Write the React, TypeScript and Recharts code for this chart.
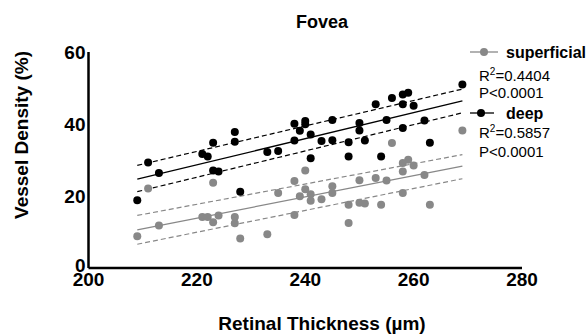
import React from "react";
import { ScatterChart, Scatter, XAxis, YAxis } from "recharts";

const thickness = [209, 211, 213, 221, 222, 223, 223, 224, 227, 227, 228, 233, 235, 238, 238, 239, 240, 240, 241, 241, 243, 245, 245, 248, 248, 250, 250, 251, 253, 254, 255, 256, 258, 258, 258, 259, 260, 262, 263, 269];
const deepValues = [18.8, 29.3, 26.4, 31.7, 31.0, 34.8, 27.1, 26.8, 37.8, 35.1, 21.2, 32.2, 32.5, 40.1, 35.4, 38.1, 40.8, 39.9, 37.1, 30.5, 35.3, 41.1, 35.5, 34.9, 31.0, 40.3, 38.2, 35.4, 45.5, 31.0, 41.1, 47.2, 48.2, 45.5, 38.9, 48.7, 45.1, 41.0, 34.8, 51.0];
const superficialValues = [8.8, 22.1, 11.8, 14.2, 14.2, 23.7, 12.7, 14.6, 14.2, 12.4, 8.2, 9.4, 20.8, 24.2, 14.7, 19.9, 27.1, 21.9, 20.5, 18.7, 19.1, 22.7, 20.8, 17.6, 12.5, 24.4, 18.1, 17.9, 25.0, 17.6, 24.3, 34.7, 29.2, 26.8, 20.8, 30.1, 28.5, 25.8, 17.6, 38.2];

const fitX = [209, 269];
const deepFit = [24.7, 46.4];
const deepUpper = [28.5, 49.7];
const deepLower = [21.2, 43.1];
const supFit = [10.6, 28.3];
const supUpper = [14.6, 31.5];
const supLower = [6.6, 24.8];

const xTicks = [200, 220, 240, 260, 280];
const yTicks = [0, 20, 40, 60];

const FONT = "'Liberation Sans', Arial, sans-serif";
const GRAY = "#888888";

const toPts = (ys: number[]) => fitX.map((x, i) => ({ x, y: ys[i] }));
const deepData = thickness.map((x, i) => ({ x, y: deepValues[i] }));
const supData = thickness.map((x, i) => ({ x, y: superficialValues[i] }));

const dot = (color: string) => (props: any) => (
  <circle cx={props.cx} cy={props.cy} r={4} fill={color} />
);
const noShape = () => <g />;

const YTick = (props: any) => {
  const { x, y, payload } = props;
  const shift = payload.value === 0 ? -3 : 0;
  return (
    <text x={x} y={y + shift} dy="0.355em" textAnchor="end" fontSize={19} fontWeight="bold" fontFamily={FONT} fill="#000">
      {payload.value}
    </text>
  );
};

export default function App() {
  return (
    <div style={{ position: "absolute", left: 0, top: 0, width: 587, height: 335, background: "#fff" }}>
      <ScatterChart width={587} height={335} margin={{ top: 52, right: 65, bottom: 0, left: 0 }}>
        <XAxis
          type="number"
          dataKey="x"
          domain={[200, 280]}
          ticks={xTicks}
          height={67}
          tickLine={false}
          tickSize={0}
          tickMargin={5}
          axisLine={{ stroke: "#000", strokeWidth: 2.5 }}
          tick={{ fill: "#000", fontSize: 19, fontWeight: "bold", fontFamily: FONT }}
          interval={0}
        />
        <YAxis
          type="number"
          dataKey="y"
          domain={[0, 60]}
          ticks={yTicks}
          width={88.5}
          tickLine={false}
          tickSize={0}
          tickMargin={3}
          axisLine={{ stroke: "#000", strokeWidth: 2.5 }}
          tick={<YTick />}
          interval={0}
        />
        <Scatter data={toPts(supUpper)} shape={noShape} line={{ stroke: GRAY, strokeWidth: 1.2, strokeDasharray: "5 3" }} isAnimationActive={false} />
        <Scatter data={toPts(supLower)} shape={noShape} line={{ stroke: GRAY, strokeWidth: 1.2, strokeDasharray: "5 3" }} isAnimationActive={false} />
        <Scatter data={toPts(supFit)} shape={noShape} line={{ stroke: GRAY, strokeWidth: 1.3 }} isAnimationActive={false} />
        <Scatter data={toPts(deepUpper)} shape={noShape} line={{ stroke: "#000", strokeWidth: 1.2, strokeDasharray: "5 3" }} isAnimationActive={false} />
        <Scatter data={toPts(deepLower)} shape={noShape} line={{ stroke: "#000", strokeWidth: 1.2, strokeDasharray: "5 3" }} isAnimationActive={false} />
        <Scatter data={toPts(deepFit)} shape={noShape} line={{ stroke: "#000", strokeWidth: 1.3 }} isAnimationActive={false} />
        <Scatter name="superficial" data={supData} shape={dot(GRAY)} isAnimationActive={false} />
        <Scatter name="deep" data={deepData} shape={dot("#000")} isAnimationActive={false} />
      </ScatterChart>
      <svg width={587} height={335} style={{ position: "absolute", left: 0, top: 0, pointerEvents: "none" }} fontFamily={FONT}>
        <text x={322} y={28} textAnchor="middle" fontSize={18} fontWeight="bold" fill="#000">Fovea</text>
        <text x={322} y={330} textAnchor="middle" fontSize={19} fontWeight="bold" fill="#000">Retinal Thickness (µm)</text>
        <text transform="translate(28,135) rotate(-90)" textAnchor="middle" fontSize={19} fontWeight="bold" fill="#000">Vessel Density (%)</text>

        <line x1={470} y1={52} x2={498} y2={52} stroke={GRAY} strokeWidth={1.3} />
        <circle cx={484} cy={52} r={4} fill={GRAY} />
        <text x={506} y={57.5} fontSize={16} fontWeight="bold" fill="#000">superficial</text>
        <text x={479} y={81} fontSize={15} fill="#000">R<tspan dy={-6} fontSize={10}>2</tspan><tspan dy={6}>=0.4404</tspan></text>
        <text x={479} y={98} fontSize={15} fill="#000">P&lt;0.0001</text>

        <line x1={470} y1={113} x2={494} y2={113} stroke="#000" strokeWidth={1.3} />
        <circle cx={481} cy={113} r={4} fill="#000" />
        <text x={506} y={118.5} fontSize={16} fontWeight="bold" fill="#000">deep</text>
        <text x={479} y={138} fontSize={15} fill="#000">R<tspan dy={-6} fontSize={10}>2</tspan><tspan dy={6}>=0.5857</tspan></text>
        <text x={479} y={157} fontSize={15} fill="#000">P&lt;0.0001</text>
      </svg>
    </div>
  );
}
